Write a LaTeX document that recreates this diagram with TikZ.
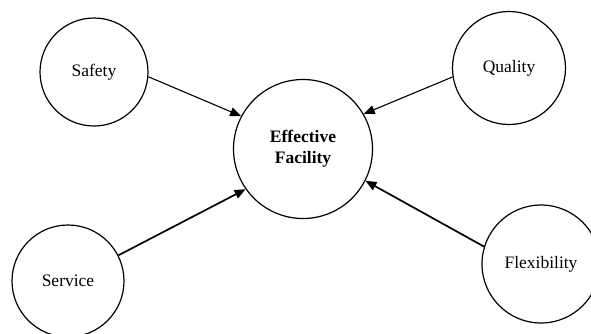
\documentclass[tikz,border=0pt]{standalone}
\usepackage{fontspec}
\setmainfont{Liberation Serif}
\usepackage{tikz}
\usetikzlibrary{shapes,arrows.meta,positioning}

\begin{document}
\begin{tikzpicture}[x=1pt, y=-1pt,
  factor/.style={draw, circle, line width=1.2pt, inner sep=0pt, align=center, font=\fontsize{17.5}{21}\selectfont},
  link/.style={-{Triangle[length=11pt, width=9pt]}, line width=1.1pt},
  heavy/.style={line width=1.7pt}]
  \useasboundingbox (0,0) rectangle (591,333);

  \node[factor, minimum size=139pt] (facility) at (303,149) {\textbf{Effective}\\\textbf{Facility}};
  \node[factor, minimum size=108pt] (safety) at (94,72) {Safety};
  \node[factor, minimum size=113pt] (quality) at (509,68) {Quality};
  \node[factor, minimum size=112pt] (service) at (68,281) {Service};
  \node[factor, minimum size=118pt] (flexibility) at (541,264) {Flexibility};

  \draw[link] (safety.-5) -- (facility.152);
  \draw[link] (quality.189) -- (facility.30);
  \draw[link, heavy] (service.27) -- (facility.215);
  \draw[link, heavy] (flexibility.163) -- (facility.-27);
\end{tikzpicture}
\end{document}
